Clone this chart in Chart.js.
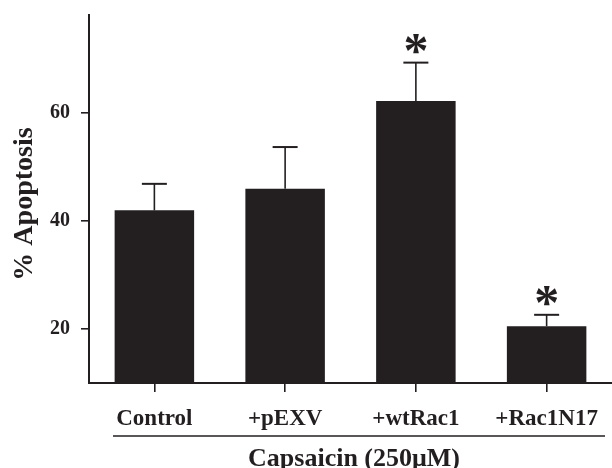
<!DOCTYPE html>
<html><head><meta charset="utf-8">
<script src="https://cdn.jsdelivr.net/npm/chart.js@4"></script>
<style>html,body{margin:0;padding:0;background:#fff;overflow:hidden}</style>
</head><body>
<canvas id="c" width="612" height="468"></canvas>
<script>
// ---- data ----
const categories = ['Control', '+pEXV', '+wtRac1', '+Rac1N17'];
const apoptosis = [41.9, 45.9, 62.1, 20.5];
const sem = [4.9, 7.7, 7.1, 2.1];
const significant = [false, false, true, true];
const yTicks = [20, 40, 60];
const yMin = 10, yMax = 78;
const yTitle = '% Apoptosis';
const xTitle = 'Capsaicin (250\u03BCM)';

// ---- styles ----
const INK = '#231f20';
const FONT = '"Liberation Serif","Times New Roman",serif';

const annotations = {
  id: 'annotations',
  afterDatasetsDraw(chart) {
    const ctx = chart.ctx, xs = chart.scales.x, ys = chart.scales.y;
    ctx.save();
    ctx.strokeStyle = INK; ctx.fillStyle = INK;
    apoptosis.forEach((v, i) => {
      const cx = xs.getPixelForValue(i);
      const y0 = ys.getPixelForValue(v);
      const y1 = ys.getPixelForValue(v + sem[i]);
      ctx.lineWidth = 1.6;
      ctx.beginPath(); ctx.moveTo(cx, y0); ctx.lineTo(cx, y1); ctx.stroke();
      ctx.lineWidth = 2;
      ctx.beginPath(); ctx.moveTo(cx - 12.5, y1); ctx.lineTo(cx + 12.5, y1); ctx.stroke();
      if (significant[i]) {
        ctx.font = 'bold 50px ' + FONT;
        ctx.textAlign = 'center'; ctx.textBaseline = 'alphabetic';
        ctx.fillText('*', cx, y1 + 4);
      }
    });
    ctx.restore();
  },
  afterDraw(chart) {
    const ctx = chart.ctx, area = chart.chartArea;
    ctx.save();
    ctx.strokeStyle = INK; ctx.fillStyle = INK;
    // group underline
    ctx.lineWidth = 1.6;
    ctx.beginPath(); ctx.moveTo(area.left + 24, 436); ctx.lineTo(605, 436); ctx.stroke();
    // x title
    ctx.font = 'bold 26px ' + FONT;
    ctx.textAlign = 'center'; ctx.textBaseline = 'alphabetic';
    ctx.fillText(xTitle, 354, 466);
    // y title
    ctx.translate(24.5, 204);
    ctx.rotate(-Math.PI / 2);
    ctx.font = 'bold 28px ' + FONT;
    ctx.textAlign = 'center'; ctx.textBaseline = 'middle';
    ctx.fillText(yTitle, 0, 0);
    ctx.restore();
  }
};

new Chart(document.getElementById('c'), {
  type: 'bar',
  data: {
    labels: categories,
    datasets: [{
      data: apoptosis,
      backgroundColor: INK,
      borderWidth: 0,
      barPercentage: 0.608,
      categoryPercentage: 1.0
    }]
  },
  options: {
    responsive: false,
    animation: false,
    devicePixelRatio: 1,
    layout: { padding: { top: 15, right: 0, bottom: 0, left: 0 } },
    plugins: { legend: { display: false }, tooltip: { enabled: false }, title: { display: false } },
    scales: {
      x: {
        offset: true,
        grid: { display: true, drawOnChartArea: false, drawTicks: true, tickLength: 9, offset: false, color: INK, lineWidth: 1.6 },
        border: { display: true, color: INK, width: 2 },
        ticks: { color: INK, font: { family: FONT, size: 23, weight: 'bold' }, padding: 13, maxRotation: 0, autoSkip: false },
        afterFit(s) { s.height = 85; s.paddingLeft = 0; s.paddingRight = 0; }
      },
      y: {
        min: yMin, max: yMax,
        afterBuildTicks(s) { s.ticks = yTicks.map(v => ({ value: v })); },
        grid: { display: true, drawOnChartArea: false, drawTicks: true, tickLength: 8, color: INK, lineWidth: 1.6 },
        border: { display: true, color: INK, width: 2 },
        ticks: { color: INK, font: { family: FONT, size: 20, weight: 'bold' }, padding: 11 },
        afterFit(s) { s.width = 89; s.paddingTop = 0; s.paddingBottom = 0; }
      }
    }
  },
  plugins: [annotations]
});
</script>
</body></html>
